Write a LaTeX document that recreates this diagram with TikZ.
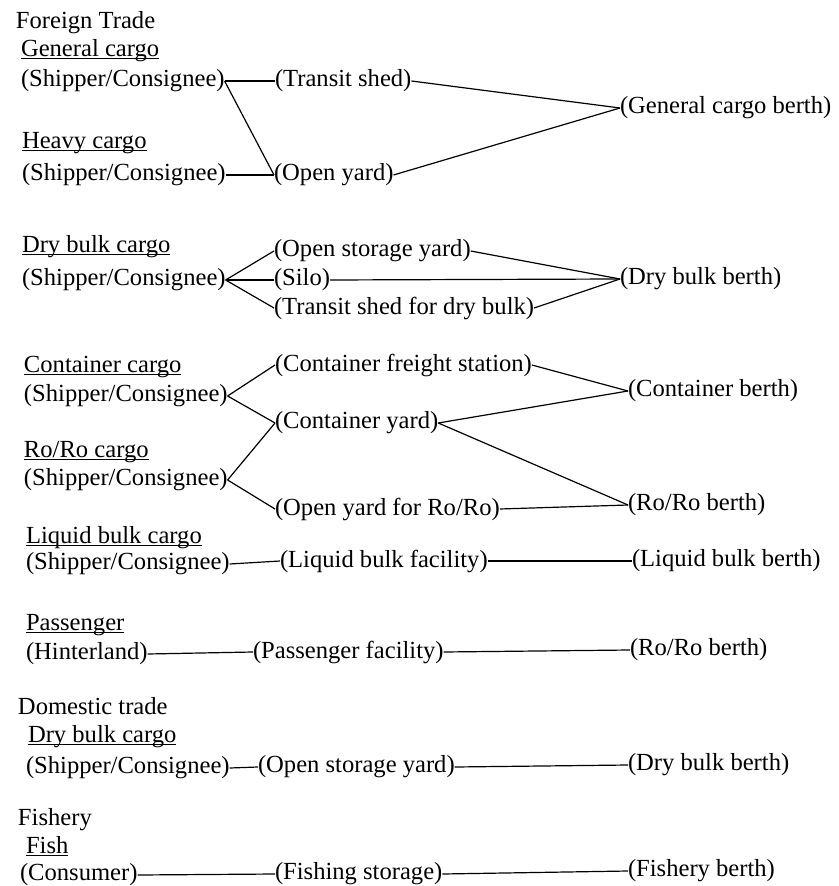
\documentclass[tikz,border=0pt]{standalone}
\usepackage{fontspec}
\setmainfont{Liberation Serif}
\usetikzlibrary{positioning}
\tikzset{
  txt/.style={anchor=west, inner sep=0pt, outer sep=0pt, font=\fontsize{12.3}{14}\selectfont},
  head/.style={txt},
  link/.style={line width=0.6pt}
}
% underline drawn close to the baseline, through the descenders
\newcommand{\cargoname}[1]{\setbox0\hbox{#1}\rlap{\rule[-1.2pt]{\wd0}{0.5pt}}\box0}
\begin{document}
\begin{tikzpicture}[x=0.5pt, y=-0.5pt]
  \useasboundingbox (0,0) rectangle (838,886);
  % foreign trade: general and heavy cargo
  \node[head] (ft) at (16,23) {Foreign Trade};
  \node[txt] (gc) at (21,51) {\cargoname{General cargo}};
  \node[txt] (sc1) at (21,81) {(Shipper/Consignee)};
  \node[txt] (ts) at (275,81) {(Transit shed)};
  \node[txt] (hc) at (22,143) {\cargoname{Heavy cargo}};
  \node[txt] (sc2) at (22,175) {(Shipper/Consignee)};
  \node[txt] (oy) at (274,175) {(Open yard)};
  \node[txt] (gcb) at (620,108) {(General cargo berth)};
  \draw[link] (sc1.east) -- (ts.west);
  \draw[link] (sc1.east) -- (oy.west);
  \draw[link] (sc2.east) -- (oy.west);
  \draw[link] (ts.east) -- (gcb.west);
  \draw[link] (oy.east) -- (gcb.west);
  % dry bulk cargo
  \node[txt] (dbc) at (22,247) {\cargoname{Dry bulk cargo}};
  \node[txt] (sc3) at (22,280) {(Shipper/Consignee)};
  \node[txt] (osy) at (274,251) {(Open storage yard)};
  \node[txt] (silo) at (274,280) {(Silo)};
  \node[txt] (tsd) at (274,308) {(Transit shed for dry bulk)};
  \node[txt] (dbb) at (620,279) {(Dry bulk berth)};
  \foreach \m in {osy,silo,tsd} {
    \draw[link] (sc3.east) -- (\m.west);
    \draw[link] (\m.east) -- (dbb.west);
  }
  % container and ro/ro cargo
  \node[txt] (cc) at (24,367) {\cargoname{Container cargo}};
  \node[txt] (sc4) at (24,396) {(Shipper/Consignee)};
  \node[txt] (cfs) at (275,365) {(Container freight station)};
  \node[txt] (cy) at (275,423) {(Container yard)};
  \node[txt] (cb) at (628,391) {(Container berth)};
  \node[txt] (rc) at (24,452) {\cargoname{Ro/Ro cargo}};
  \node[txt] (sc5) at (24,480) {(Shipper/Consignee)};
  \node[txt] (oyr) at (275,509) {(Open yard for Ro/Ro)};
  \node[txt] (rrb) at (628,505) {(Ro/Ro berth)};
  \draw[link] (sc4.east) -- (cfs.west);
  \draw[link] (sc4.east) -- (cy.west);
  \draw[link] (sc5.east) -- (cy.west);
  \draw[link] (sc5.east) -- (oyr.west);
  \draw[link] (cfs.east) -- (cb.west);
  \draw[link] (cy.east) -- (cb.west);
  \draw[link] (cy.east) -- (rrb.west);
  \draw[link] (oyr.east) -- (rrb.west);
  % liquid bulk cargo
  \node[txt] (lbc) at (26,538) {\cargoname{Liquid bulk cargo}};
  \node[txt] (sc6) at (26,564) {(Shipper/Consignee)};
  \node[txt] (lbf) at (280,561) {(Liquid bulk facility)};
  \node[txt] (lbb) at (632,561) {(Liquid bulk berth)};
  \draw[link] (sc6.east) -- (lbf.west);
  \draw[link] (lbf.east) -- (lbb.west);
  % passenger
  \node[txt] (pas) at (26,625) {\cargoname{Passenger}};
  \node[txt] (hin) at (26,654) {(Hinterland)};
  \node[txt] (pf) at (253,652) {(Passenger facility)};
  \node[txt] (rrb2) at (630,650) {(Ro/Ro berth)};
  \draw[link] (hin.east) -- (pf.west);
  \draw[link] (pf.east) -- (rrb2.west);
  % domestic trade
  \node[head] (dt) at (18,706) {Domestic trade};
  \node[txt] (dbc2) at (28,737) {\cargoname{Dry bulk cargo}};
  \node[txt] (sc7) at (26,768) {(Shipper/Consignee)};
  \node[txt] (osy2) at (258,767) {(Open storage yard)};
  \node[txt] (dbb2) at (628,765) {(Dry bulk berth)};
  \draw[link] (sc7.east) -- (osy2.west);
  \draw[link] (osy2.east) -- (dbb2.west);
  % fishery
  \node[head] (fis) at (18,820) {Fishery};
  \node[txt] (fish) at (26,846) {\cargoname{Fish}};
  \node[txt] (con) at (20,875) {(Consumer)};
  \node[txt] (fst) at (275,874) {(Fishing storage)};
  \node[txt] (fb) at (628,871) {(Fishery berth)};
  \draw[link] (con.east) -- (fst.west);
  \draw[link] (fst.east) -- (fb.west);
\end{tikzpicture}
\end{document}
